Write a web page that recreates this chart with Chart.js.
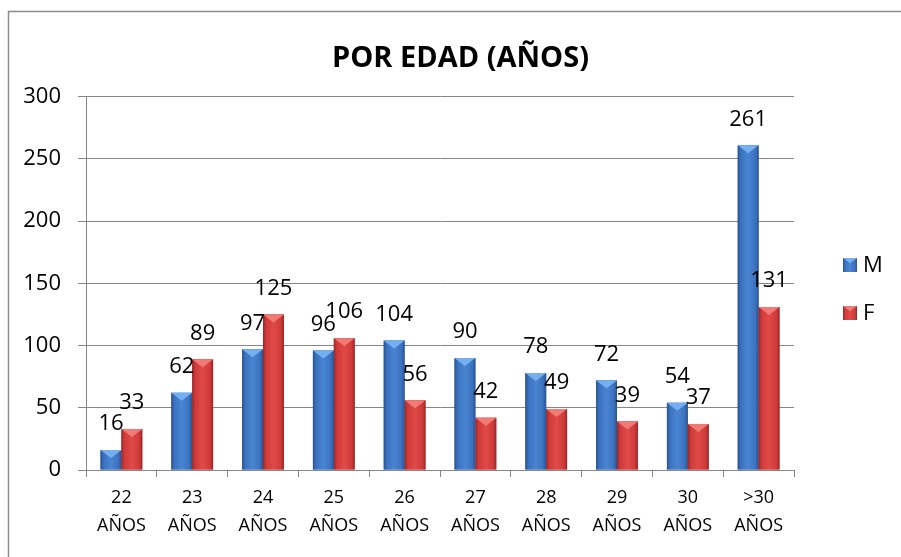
<!DOCTYPE html>
<html>
<head>
<meta charset="utf-8">
<script src="https://cdn.jsdelivr.net/npm/chart.js@4/dist/chart.umd.min.js"></script>
<style>
  html, body { margin: 0; padding: 0; background: #fff; }
</style>
</head>
<body>
<canvas id="myChart" width="901" height="557"></canvas>
<script>
var categories = [["22", "AÑOS"], ["23", "AÑOS"], ["24", "AÑOS"], ["25", "AÑOS"], ["26", "AÑOS"],
                  ["27", "AÑOS"], ["28", "AÑOS"], ["29", "AÑOS"], ["30", "AÑOS"], [">30", "AÑOS"]];
var valuesM = [16, 62, 97, 96, 104, 90, 78, 72, 54, 261];
var valuesF = [33, 89, 125, 106, 56, 42, 49, 39, 37, 131];
var seriesNames = ["M", "F"];
var yMin = 0, yMax = 300, yStep = 50;

var FONT = "'Open Sans', sans-serif";
var GRID = "#868686";
var palette = [
  { base: "#3b72bf", edge: "#28528f", mid: "#4a85d2", top: "#74b0f0" },
  { base: "#cf3b3a", edge: "#992626", mid: "#e04a48", top: "#f07a76" }
];

function shadeBar(ctx, c, left, top, w, h) {
  var g = ctx.createLinearGradient(left, 0, left + w, 0);
  g.addColorStop(0, c.edge);
  g.addColorStop(0.15, c.base);
  g.addColorStop(0.5, c.mid);
  g.addColorStop(0.85, c.base);
  g.addColorStop(1, c.edge);
  ctx.fillStyle = g;
  ctx.fillRect(left, top, w, h);
  var th = Math.min(w * 0.38, h);
  ctx.beginPath();
  ctx.moveTo(left, top);
  ctx.lineTo(left + w, top);
  ctx.lineTo(left + w / 2, top + th);
  ctx.closePath();
  ctx.fillStyle = c.top;
  ctx.fill();
}

var frameAndLabels = {
  id: "frameAndLabels",
  beforeDraw: function (chart) {
    var ctx = chart.ctx;
    ctx.save();
    ctx.strokeStyle = "#8c8c8c";
    ctx.lineWidth = 1.5;
    ctx.beginPath();
    ctx.moveTo(8.5, chart.height);
    ctx.lineTo(8.5, 11.5);
    ctx.lineTo(chart.width, 11.5);
    ctx.stroke();
    ctx.restore();
  },
  afterDatasetsDraw: function (chart) {
    var ctx = chart.ctx;
    ctx.save();
    chart.data.datasets.forEach(function (ds, i) {
      var meta = chart.getDatasetMeta(i);
      meta.data.forEach(function (bar, j) {
        var w = bar.width, left = bar.x - w / 2, top = bar.y, h = bar.base - bar.y;
        shadeBar(ctx, palette[i], left, top, w, h);
      });
    });
    ctx.fillStyle = "#000";
    ctx.font = "22px " + FONT;
    ctx.textAlign = "center";
    ctx.textBaseline = "middle";
    chart.data.datasets.forEach(function (ds, i) {
      var meta = chart.getDatasetMeta(i);
      meta.data.forEach(function (bar, j) {
        ctx.fillText(String(ds.data[j]), bar.x, bar.y - 26);
      });
    });
    // legend
    var ly = [265, 313];
    seriesNames.forEach(function (name, i) {
      shadeBar(ctx, palette[i], 843, ly[i] - 7, 14, 14);
      ctx.fillStyle = "#000";
      ctx.textAlign = "left";
      ctx.fillText(name, 863, ly[i] + 1);
    });
    ctx.restore();
  }
};

new Chart(document.getElementById("myChart"), {
  type: "bar",
  data: {
    labels: categories,
    datasets: [
      { label: seriesNames[0], data: valuesM, backgroundColor: palette[0].base, yAxisID: "y" },
      { label: seriesNames[1], data: valuesF, backgroundColor: palette[1].base, yAxisID: "y" }
    ]
  },
  options: {
    responsive: false,
    animation: false,
    layout: { padding: { left: 20, right: 0, top: 0, bottom: 0 } },
    datasets: { bar: { barPercentage: 1, categoryPercentage: 0.59 } },
    plugins: {
      legend: { display: false },
      tooltip: { enabled: false },
      title: {
        display: true,
        text: "POR EDAD (AÑOS)",
        color: "#000",
        font: { family: FONT, size: 29, weight: "bold", lineHeight: 1.2 },
        padding: { top: 41, bottom: 21 }
      }
    },
    scales: {
      x: {
        offset: true,
        grid: { offset: true, drawOnChartArea: false, drawTicks: true, tickLength: 7, color: GRID, lineWidth: 1 },
        border: { color: GRID, width: 1 },
        ticks: { color: "#000", font: { family: FONT, size: 18, lineHeight: 1.55 }, padding: 7, maxRotation: 0, autoSkip: false },
        afterFit: function (s) { s.height = 87; }
      },
      y: {
        min: yMin, max: yMax,
        ticks: { stepSize: yStep, color: "#000", font: { family: FONT, size: 22 }, padding: 17 },
        grid: { color: GRID, tickLength: 8, lineWidth: 1 },
        border: { color: GRID, width: 1 },
        afterFit: function (s) { s.width = 66; }
      },
      yR: {
        position: "right",
        display: true,
        grid: { display: false },
        border: { display: false },
        ticks: { display: false },
        afterFit: function (s) { s.width = 107; }
      }
    }
  },
  plugins: [frameAndLabels]
});
</script>
</body>
</html>
